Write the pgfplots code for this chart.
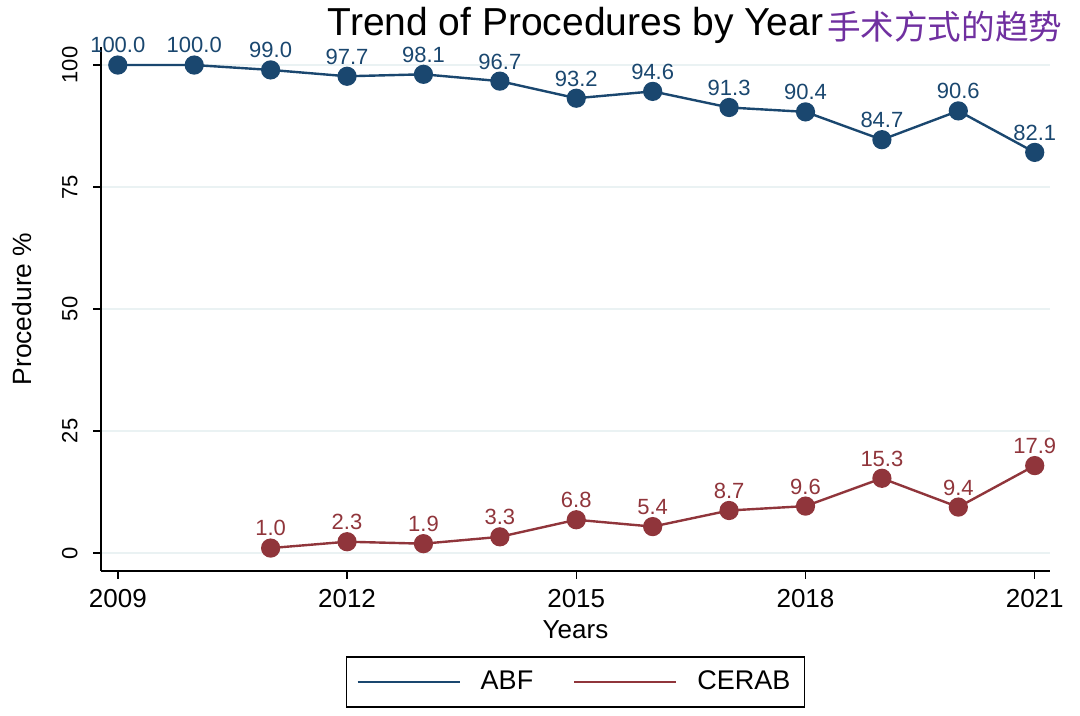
\documentclass[border=0pt]{standalone}
\usepackage{pgfplots}
\pgfplotsset{compat=1.18}
\usepackage{fontspec}
\setmainfont{Liberation Sans}
\newfontfamily\cjk{Noto Sans CJK SC}

\definecolor{abf}{RGB}{26,71,111}
\definecolor{cerab}{RGB}{144,53,59}
\definecolor{gridc}{RGB}{234,242,243}
\definecolor{cnpurple}{RGB}{112,48,160}

\pgfplotstableread{
year abf
2009 100.0
2010 100.0
2011 99.0
2012 97.7
2013 98.1
2014 96.7
2015 93.2
2016 94.6
2017 91.3
2018 90.4
2019 84.7
2020 90.6
2021 82.1
}\abfdata

\pgfplotstableread{
year cerab
2011 1.0
2012 2.3
2013 1.9
2014 3.3
2015 6.8
2016 5.4
2017 8.7
2018 9.6
2019 15.3
2020 9.4
2021 17.9
}\cerabdata

\begin{document}
\begin{tikzpicture}
\begin{axis}[
    scale only axis,
    width=474.5pt, height=262pt,
    xmin=2008.78, xmax=2021.2,
    ymin=-3.7, ymax=103.7,
    axis lines*=left,
    axis line style={line width=0.7pt, -},
    xtick={2009,2012,...,2021},
    ytick={0,25,...,100},
    tick align=outside,
    major tick length=4pt,
    tick style={line width=0.7pt, black},
    ymajorgrids,
    grid style={gridc, line width=0.9pt},
    /pgf/number format/assume math mode=true,
    xticklabel style={font=\fontsize{13}{15}\selectfont, /pgf/number format/1000 sep={}, yshift=-1.5pt},
    yticklabel style={font=\fontsize{11}{13}\selectfont, rotate=90, anchor=south, inner ysep=7.5pt},
    legend columns=2,
    legend style={
        at={(axis description cs:0.5,-0.2118)}, anchor=center,
        draw=black, line width=0.7pt,
        font=\fontsize{13.5}{16}\selectfont,
        inner xsep=5pt, inner ysep=5pt,
        /tikz/every odd column/.append style={column sep=8pt},
        /tikz/every even column/.append style={column sep=18pt},
    },
    legend image code/.code={\draw[line width=1.1pt] (0pt,0pt) -- (51pt,0pt);},
    nodes near coords,
    every node near coord/.append style={
        font=\fontsize{11}{13}\selectfont,
        yshift=2pt,
        /pgf/number format/fixed,
        /pgf/number format/fixed zerofill,
        /pgf/number format/precision=1,
        /pgf/number format/assume math mode=true,
    },
]
\addplot[abf, line width=1.2pt, mark=*, mark size=4.2pt,
    every node near coord/.append style={text=abf}] table[x=year, y=abf] {\abfdata};
\addlegendentry{ABF}
\addplot[cerab, line width=1.2pt, mark=*, mark size=4.2pt,
    every node near coord/.append style={text=cerab}] table[x=year, y=cerab] {\cerabdata};
\addlegendentry{CERAB}
\end{axis}
% axis titles and chart title
\node[rotate=90, font=\fontsize{13.2}{16}\selectfont] at (-39.25pt,131pt) {Procedure \%};
\node[font=\fontsize{13}{16}\selectfont] at (237.25pt,-29.5pt) {Years};
\node[anchor=base, inner sep=0pt, font=\fontsize{19.5}{23}\selectfont] (T) at (237.25pt,267.5pt) {Trend of Procedures by Year};
\node[anchor=base west, inner sep=0pt, xshift=1.5pt, yshift=-2pt, text=cnpurple, font=\cjk\fontsize{16.8}{20}\selectfont] at (T.base east) {手术方式的趋势};
\pgfresetboundingbox
\useasboundingbox (-50.5pt,-72.5pt) rectangle (489.5pt,285.5pt);
\end{tikzpicture}
\end{document}
